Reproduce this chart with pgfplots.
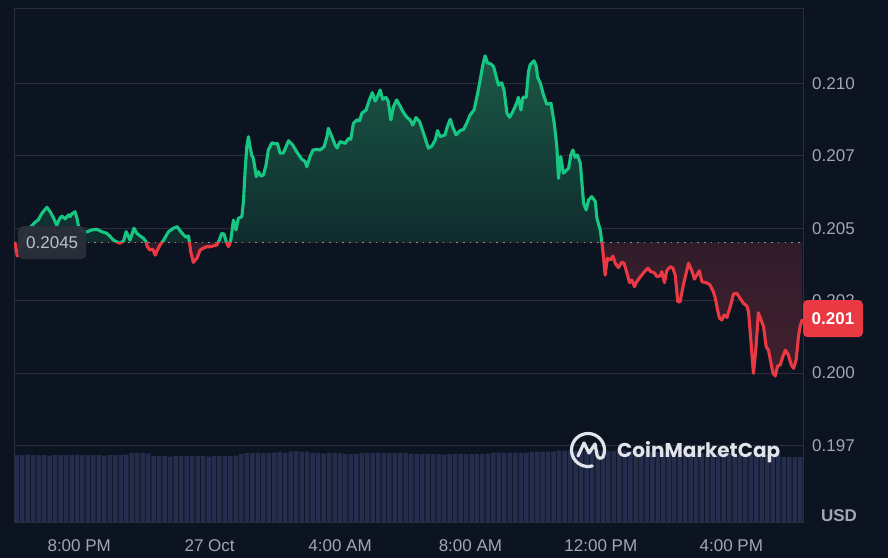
\documentclass[border=0pt]{standalone}
\usepackage{pgfplots}
\pgfplotsset{compat=1.18}
\usepackage{pgfplotstable}
\usepackage{fontspec}
\setmainfont{Liberation Sans}
\newfontfamily\cmcfont{Poppins}
\definecolor{bg}{HTML}{0D1421}
\definecolor{gridc}{HTML}{292E3B}
\definecolor{labc}{HTML}{A0A6B5}
\definecolor{upc}{HTML}{16C784}
\definecolor{dnc}{HTML}{EA3943}
\definecolor{gtop}{HTML}{1B5846}
\definecolor{gfar}{HTML}{060D1B}
\definecolor{rmid}{HTML}{1B1723}
\definecolor{rbot}{HTML}{42202F}
\definecolor{volc}{HTML}{252D4D}
\definecolor{dotc}{HTML}{8C92A2}
\definecolor{boxc}{HTML}{2A2F3A}
\definecolor{logoc}{HTML}{E1E4EA}

\pgfplotstableread{
h p
-5.97 0.20449
-5.90 0.20404
-5.75 0.20452
-5.57 0.20494
-5.35 0.20521
-5.26 0.20528
-5.14 0.20552
-4.99 0.20572
-4.89 0.20557
-4.79 0.20535
-4.69 0.20511
-4.59 0.20535
-4.53 0.20542
-4.43 0.20532
-4.33 0.20546
-4.28 0.20540
-4.23 0.20549
-4.13 0.20557
-4.07 0.20535
-4.02 0.20505
-3.97 0.20494
-3.85 0.20487
-3.75 0.20488
-3.61 0.20494
-3.46 0.20496
-3.31 0.20488
-3.15 0.20482
-3.05 0.20471
-2.95 0.20459
-2.85 0.20453
-2.75 0.20448
-2.64 0.20456
-2.56 0.20488
-2.49 0.20471
-2.44 0.20459
-2.32 0.20500
-2.23 0.20482
-2.13 0.20473
-2.03 0.20465
-1.95 0.20453
-1.91 0.20436
-1.83 0.20425
-1.74 0.20427
-1.67 0.20407
-1.60 0.20425
-1.52 0.20442
-1.42 0.20457
-1.26 0.20488
-1.11 0.20500
-0.99 0.20505
-0.90 0.20490
-0.80 0.20477
-0.72 0.20469
-0.65 0.20473
-0.62 0.20453
-0.58 0.20419
-0.50 0.20382
-0.39 0.20396
-0.29 0.20425
-0.19 0.20431
-0.09 0.20436
0.02 0.20436
0.12 0.20439
0.22 0.20442
0.30 0.20459
0.37 0.20482
0.44 0.20480
0.51 0.20453
0.58 0.20436
0.65 0.20459
0.73 0.20528
0.81 0.20494
0.88 0.20534
0.99 0.20540
1.04 0.20597
1.09 0.20701
1.14 0.20781
1.19 0.20816
1.24 0.20781
1.29 0.20753
1.34 0.20741
1.40 0.20701
1.43 0.20678
1.50 0.20695
1.57 0.20680
1.65 0.20684
1.73 0.20718
1.80 0.20770
1.91 0.20795
2.01 0.20791
2.08 0.20793
2.16 0.20759
2.26 0.20759
2.42 0.20802
2.55 0.20787
2.67 0.20764
2.83 0.20738
2.93 0.20730
2.98 0.20712
3.08 0.20747
3.17 0.20770
3.29 0.20772
3.39 0.20770
3.51 0.20781
3.60 0.20816
3.64 0.20845
3.75 0.20816
3.85 0.20787
3.91 0.20777
4.00 0.20799
4.16 0.20793
4.26 0.20810
4.33 0.20807
4.41 0.20862
4.52 0.20874
4.60 0.20871
4.67 0.20897
4.80 0.20908
4.90 0.20943
4.99 0.20968
5.08 0.20939
5.15 0.20954
5.23 0.20977
5.31 0.20945
5.41 0.20952
5.48 0.20937
5.56 0.20874
5.64 0.20920
5.74 0.20943
5.84 0.20922
5.93 0.20902
6.05 0.20883
6.15 0.20874
6.23 0.20856
6.33 0.20882
6.44 0.20868
6.56 0.20828
6.71 0.20776
6.82 0.20784
6.92 0.20805
6.99 0.20837
7.07 0.20816
7.22 0.20822
7.29 0.20850
7.38 0.20876
7.46 0.20848
7.56 0.20822
7.68 0.20837
7.79 0.20841
7.89 0.20864
7.99 0.20891
8.11 0.20908
8.20 0.20954
8.28 0.21000
8.38 0.21064
8.45 0.21095
8.52 0.21071
8.63 0.21067
8.71 0.21058
8.79 0.21023
8.86 0.20994
8.96 0.21002
9.03 0.20977
9.12 0.20897
9.20 0.20883
9.30 0.20902
9.42 0.20933
9.47 0.20952
9.55 0.20908
9.61 0.20952
9.71 0.20952
9.78 0.21040
9.83 0.21064
9.95 0.21078
10.02 0.21058
10.06 0.21021
10.14 0.21002
10.24 0.20960
10.34 0.20928
10.47 0.20931
10.57 0.20862
10.65 0.20781
10.70 0.20672
10.77 0.20747
10.85 0.20690
11.01 0.20707
11.08 0.20753
11.14 0.20770
11.21 0.20745
11.28 0.20753
11.37 0.20724
11.47 0.20586
11.55 0.20563
11.62 0.20597
11.72 0.20609
11.83 0.20592
11.88 0.20534
11.98 0.20494
12.03 0.20453
12.08 0.20402
12.13 0.20338
12.20 0.20396
12.29 0.20390
12.37 0.20404
12.44 0.20379
12.54 0.20364
12.64 0.20382
12.71 0.20379
12.80 0.20346
12.88 0.20312
12.95 0.20321
13.03 0.20298
13.10 0.20315
13.23 0.20335
13.34 0.20350
13.44 0.20362
13.53 0.20350
13.64 0.20346
13.72 0.20333
13.82 0.20335
13.87 0.20350
13.95 0.20312
14.02 0.20353
14.13 0.20367
14.21 0.20362
14.28 0.20338
14.36 0.20246
14.43 0.20246
14.53 0.20304
14.69 0.20379
14.79 0.20353
14.87 0.20324
15.02 0.20353
15.10 0.20315
15.23 0.20312
15.35 0.20304
15.45 0.20281
15.51 0.20258
15.58 0.20218
15.64 0.20189
15.71 0.20183
15.78 0.20200
15.87 0.20192
15.91 0.20208
15.97 0.20229
16.07 0.20273
16.17 0.20275
16.27 0.20258
16.37 0.20241
16.48 0.20231
16.53 0.20212
16.60 0.20114
16.68 0.19999
16.76 0.20091
16.83 0.20208
16.91 0.20185
16.99 0.20160
17.07 0.20091
17.14 0.20079
17.21 0.20039
17.28 0.19999
17.35 0.19990
17.42 0.20024
17.50 0.20028
17.58 0.20056
17.66 0.20079
17.75 0.20062
17.84 0.20028
17.91 0.20016
17.99 0.20045
18.06 0.20125
18.11 0.20160
18.17 0.20183
}\price

\begin{document}
\begin{tikzpicture}
\fill[bg] (0,0) rectangle (888bp,558bp);

% volume
\begin{axis}[scale only axis, width=789bp, height=514bp, at={(14bp,36bp)}, anchor=south west,
  xmin=-0.5, xmax=143.5, ymin=0, ymax=100, axis lines=none, ybar, bar width=4.5bp]
\addplot[fill=volc, draw=none] coordinates {
(0,13.0) (1,13.0) (2,13.1) (3,13.0) (4,13.0) (5,13.0) (6,12.9) (7,13.0) (8,13.0) (9,13.0)
(10,13.0) (11,13.1) (12,13.0) (13,13.0) (14,13.0) (15,13.0) (16,12.9) (17,13.0) (18,13.0) (19,13.0)
(20,13.1) (21,13.4) (22,13.5) (23,13.4) (24,13.3) (25,12.8) (26,12.8) (27,12.8) (28,12.7) (29,12.8)
(30,12.8) (31,12.8) (32,12.8) (33,12.8) (34,12.8) (35,12.7) (36,12.8) (37,12.8) (38,12.8) (39,12.8)
(40,12.9) (41,13.2) (42,13.4) (43,13.4) (44,13.5) (45,13.4) (46,13.4) (47,13.45) (48,13.6) (49,13.45)
(50,13.7) (51,13.8) (52,13.7) (53,13.7) (54,13.4) (55,13.4) (56,13.3) (57,13.4) (58,13.4) (59,13.4)
(60,13.2) (61,13.2) (62,13.2) (63,13.4) (64,13.4) (65,13.4) (66,13.5) (67,13.4) (68,13.4) (69,13.4)
(70,13.4) (71,13.4) (72,13.3) (73,13.2) (74,13.2) (75,13.2) (76,13.2) (77,13.2) (78,13.1) (79,13.2)
(80,13.2) (81,13.2) (82,13.2) (83,13.2) (84,13.2) (85,13.2) (86,13.3) (87,13.5) (88,13.5) (89,13.5)
(90,13.5) (91,13.5) (92,13.5) (93,13.5) (94,13.7) (95,13.7) (96,13.7) (97,13.7) (98,13.7) (99,13.9)
(100,13.9) (101,13.9) (102,13.9) (103,13.9) (104,13.9) (105,13.9) (106,13.9) (107,13.9) (108,13.8) (109,13.8)
(110,13.8) (111,13.8) (112,13.8) (113,13.8) (114,13.8) (115,13.8) (116,13.6) (117,13.6) (118,13.6) (119,13.6)
(120,13.6) (121,13.6) (122,13.6) (123,13.6) (124,13.4) (125,13.4) (126,13.4) (127,13.4) (128,13.4) (129,13.4)
(130,13.4) (131,13.4) (132,13.1) (133,13.1) (134,13.1) (135,13.1) (136,13.1) (137,13.1) (138,13.1) (139,13.1)
(140,12.6) (141,12.6) (142,12.6) (143,12.6)};
\end{axis}

% price
\begin{axis}[scale only axis, width=789bp, height=514bp, at={(14bp,36bp)}, anchor=south west,
  xmin=-6.0, xmax=18.2, ymin=0.194855, ymax=0.212603,
  axis line style={color=gridc, line width=0.9bp},
  ytick={0.1975,0.2,0.2025,0.205,0.2075,0.21},
  yticklabels={0.197,0.200,0.202,0.205,0.207,0.210},
  yticklabel pos=right,
  xtick={-4,0,4,8,12,16},
  xticklabels={8:00 PM,27 Oct,4:00 AM,8:00 AM,12:00 PM,4:00 PM},
  ymajorgrids, major grid style={color=gridc, line width=0.9bp},
  major tick length=0pt,
  scaled y ticks=false,
  tick label style={font=\fontsize{17bp}{20bp}\selectfont, text=labc},
  yticklabel style={anchor=west, inner sep=0pt, xshift=9bp},
  xticklabel style={anchor=north, inner sep=0pt, yshift=-17bp},
]
% green area above baseline
\begin{scope}
\clip (axis cs:-7,0.2045) rectangle (axis cs:19,0.2130);
\addplot[draw=none, top color=gtop, bottom color=gfar] table[x=h,y=p]{\price} -- (axis cs:18.17,0.2045) -- (axis cs:-5.97,0.2045) -- cycle;
\end{scope}
% red area below baseline
\begin{scope}
\clip (axis cs:-7,0.1940) rectangle (axis cs:19,0.2045);
\addplot[draw=none, top color=rmid, middle color=rmid, bottom color=rbot] table[x=h,y=p]{\price} -- (axis cs:18.17,0.2045) -- (axis cs:-5.97,0.2045) -- cycle;
\end{scope}
% baseline
\addplot[dotc, line width=1.5bp, dash pattern=on 1.6bp off 5.1bp] coordinates {(-6,0.2045) (18.2,0.2045)};
% line, green above, red below
\begin{scope}
\clip (axis cs:-7,0.2045) rectangle (axis cs:19,0.2130);
\addplot[upc, line width=3.1bp, line join=round, line cap=round] table[x=h,y=p]{\price};
\end{scope}
\begin{scope}
\clip (axis cs:-7,0.1940) rectangle (axis cs:19,0.2045);
\addplot[dnc, line width=3.1bp, line join=round, line cap=round] table[x=h,y=p]{\price};
\end{scope}
\coordinate (basel) at (axis cs:-6,0.2045);
\coordinate (endp) at (axis cs:18.2,0.20188);
\end{axis}

% labels
\node[fill=boxc, fill opacity=0.95, text opacity=1, text=labc!70!white, rounded corners=5bp, anchor=west,
  inner xsep=8bp, minimum height=33bp, font=\fontsize{17bp}{20bp}\selectfont] at ([xshift=4bp]basel) {0.2045};
\node[fill=dnc, text=white, rounded corners=4bp, anchor=west, inner xsep=8.5bp, minimum height=37bp,
  font=\bfseries\fontsize{17bp}{20bp}\selectfont] at (endp) {0.201};
\node[text=labc, font=\bfseries\fontsize{17bp}{20bp}\selectfont] at (839bp,42bp) {USD};

% watermark
\begin{scope}[shift={(588bp,108bp)}, draw=logoc, line width=3.2bp, line cap=round, line join=round]
\draw (-25:16.5bp) arc (-25:285:16.5bp);
\draw (-10bp,-6bp) -- (-4bp,7bp) -- (1bp,-3bp) -- (7bp,6bp) -- (9bp,-5bp) .. controls (10bp,-9bp) and (13bp,-9bp) .. (15.5bp,-6.5bp);
\end{scope}
\node[anchor=base west, inner sep=0pt, text=logoc, font=\cmcfont\bfseries\fontsize{20bp}{24bp}\selectfont] at (617bp,100bp) {CoinMarketCap};
\end{tikzpicture}
\end{document}
